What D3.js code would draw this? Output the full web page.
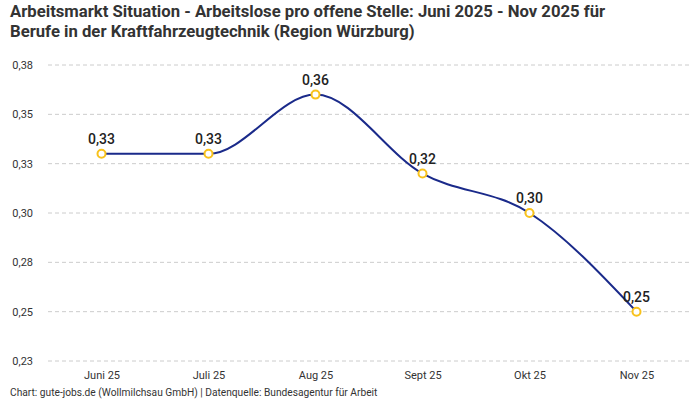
<!DOCTYPE html>
<html>
<head>
<meta charset="utf-8">
<script src="https://cdn.jsdelivr.net/npm/d3@7"></script>
<style>
	body { margin: 0; background: #fff; }
	svg { font-family: Roboto, "Noto Sans", sans-serif; }
</style>
</head>
<body>
<svg id="chart" width="700" height="400"></svg>
<script>
// values
var months = ["Juni 25", "Juli 25", "Aug 25", "Sept 25", "Okt 25", "Nov 25"];
var ratio = [0.33, 0.33, 0.36, 0.32, 0.30, 0.25];
var yTicks = [0.225, 0.25, 0.275, 0.3, 0.325, 0.35, 0.375];

var titleLines = [
	"Arbeitsmarkt Situation - Arbeitslose pro offene Stelle: Juni 2025 - Nov 2025 für",
	"Berufe in der Kraftfahrzeugtechnik (Region Würzburg)"
];
var footer = "Chart: gute-jobs.de (Wollmilchsau GmbH) | Datenquelle: Bundesagentur für Arbeit";

var svg = d3.select("#chart"),
	margin = {top: 65, right: 10, bottom: 39, left: 48},
	width = svg.attr("width") - margin.left - margin.right,
	height = svg.attr("height") - margin.top - margin.bottom;

var fmt = function(v) { return d3.format(".2f")(v).replace(".", ","); };

svg.selectAll(".title")
	.data(titleLines)
	.enter().append("text")
	.attr("class", "title")
	.attr("x", 10)
	.attr("y", function(d, i) { return 17 + i * 20; })
	.attr("fill", "#333")
	.style("font-size", "16.7px")
	.style("font-weight", "bold")
	.text(function(d) { return d; });

var g = svg.append("g").attr("transform", "translate(" + margin.left + "," + margin.top + ")");

var x = d3.scalePoint().domain(months).range([0, width]).padding(0.5),
	y = d3.scaleLinear().domain([0.225, 0.375]).range([height, 0]);

// grid
g.append("g")
	.attr("class", "grid")
	.selectAll("line")
	.data(yTicks)
	.enter().append("line")
	.attr("x1", 0)
	.attr("x2", width)
	.attr("y1", function(d) { return y(d); })
	.attr("y2", function(d) { return y(d); })
	.attr("stroke", "#ccc")
	.attr("stroke-dasharray", "4,3");

var yAxis = g.append("g")
	.call(d3.axisLeft(y).tickValues(yTicks).tickFormat(fmt).tickSize(0).tickPadding(15));
yAxis.select(".domain").remove();
yAxis.selectAll("text")
	.attr("fill", "#333")
	.style("font-size", "11px")
	.style("font-family", "Roboto, sans-serif");

var xAxis = g.append("g")
	.attr("transform", "translate(0," + height + ")")
	.call(d3.axisBottom(x).tickSize(0).tickPadding(10));
xAxis.select(".domain").remove();
xAxis.selectAll("text")
	.attr("fill", "#333")
	.style("font-size", "11px")
	.style("font-family", "Roboto, sans-serif");

var line = d3.line()
	.curve(d3.curveMonotoneX)
	.x(function(d, i) { return x(months[i]); })
	.y(function(d) { return y(d); });

g.append("path")
	.datum(ratio)
	.attr("fill", "none")
	.attr("stroke", "#1a2a8a")
	.attr("stroke-width", 2)
	.attr("d", line);

g.selectAll(".dot")
	.data(ratio)
	.enter().append("circle")
	.attr("class", "dot")
	.attr("cx", function(d, i) { return x(months[i]); })
	.attr("cy", function(d) { return y(d); })
	.attr("r", 4)
	.attr("fill", "#fff")
	.attr("stroke", "#f8c21c")
	.attr("stroke-width", 2);

g.selectAll(".label")
	.data(ratio)
	.enter().append("text")
	.attr("class", "label")
	.attr("x", function(d, i) { return x(months[i]); })
	.attr("y", function(d) { return y(d) - 10; })
	.attr("text-anchor", "middle")
	.attr("fill", "#222")
	.style("font-size", "14px")
	.style("font-weight", 500)
	.text(fmt);

svg.append("text")
	.attr("x", 10)
	.attr("y", 396)
	.attr("fill", "#333")
	.style("font-size", "10.2px")
	.text(footer);
</script>
</body>
</html>
